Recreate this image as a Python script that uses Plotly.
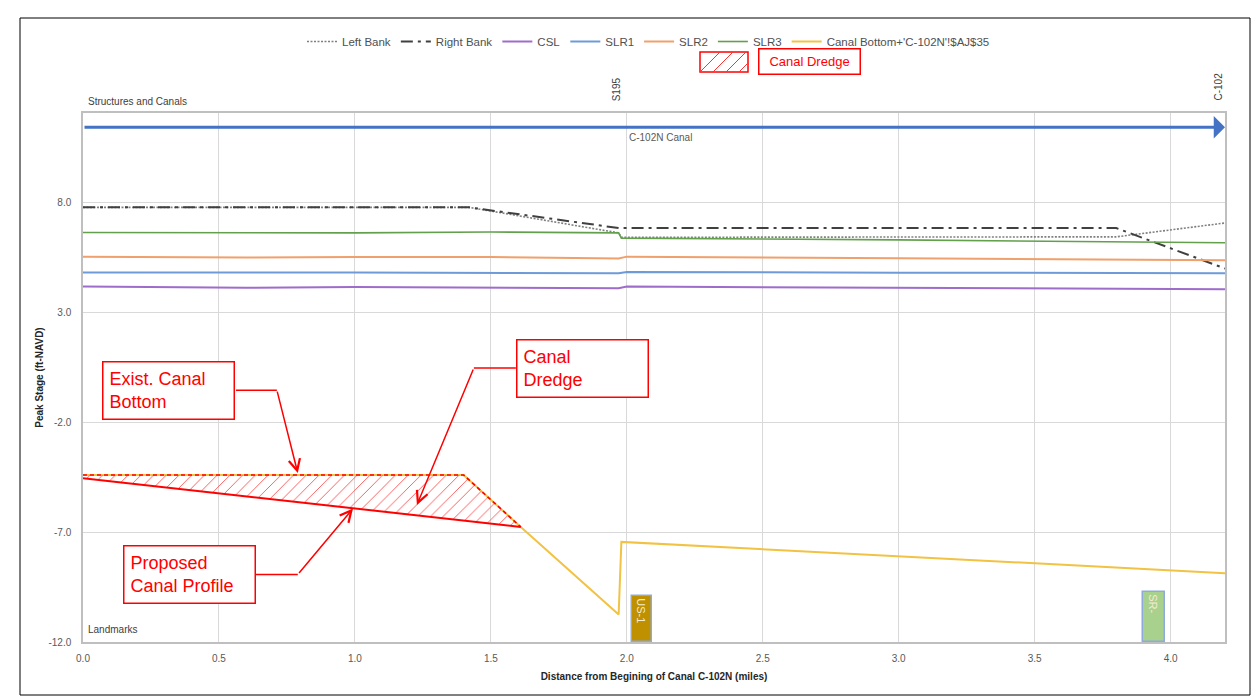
import plotly.graph_objects as go

# Distance along canal C-102N (miles) and peak stages (ft-NAVD)
left_bank_x = [0.0, 1.42, 1.97, 1.98, 3.80, 4.20]
left_bank_y = [7.76, 7.76, 6.60, 6.40, 6.42, 7.05]

right_bank_x = [0.0, 1.42, 1.97, 3.80, 4.20]
right_bank_y = [7.76, 7.76, 6.82, 6.82, 4.98]

csl_x = [0.0, 0.6, 1.0, 1.97, 2.0, 3.0, 4.2]
csl_y = [4.16, 4.10, 4.14, 4.08, 4.16, 4.10, 4.04]

slr1_x = [0.0, 1.0, 1.97, 2.0, 3.0, 4.2]
slr1_y = [4.80, 4.80, 4.76, 4.82, 4.79, 4.77]

slr2_x = [0.0, 0.6, 1.0, 1.5, 1.97, 2.0, 3.0, 4.2]
slr2_y = [5.52, 5.48, 5.50, 5.50, 5.44, 5.52, 5.45, 5.36]

slr3_x = [0.0, 1.0, 1.5, 1.97, 1.98, 3.0, 4.2]
slr3_y = [6.62, 6.60, 6.64, 6.60, 6.36, 6.28, 6.15]

canal_bottom_x = [0.0, 1.40, 1.61, 1.97, 1.98, 4.20]
canal_bottom_y = [-4.41, -4.41, -6.77, -10.75, -7.45, -8.87]

# Dredge section: existing bottom against the proposed profile
dredge_exist_x = [0.0, 1.40, 1.61]
dredge_exist_y = [-4.41, -4.41, -6.77]
proposed_x = [0.0, 1.61]
proposed_y = [-4.55, -6.77]

# Canal reach shown in the structures band
canal_extent = [0.0, 4.2]
canal_stage = 11.4

# Landmarks along the bottom band
landmark_names = ["US-1", "SR-"]
landmark_x = [2.055, 3.94]
landmark_width = [0.073, 0.08]
landmark_top = [-9.9, -9.73]
landmark_colors = ["#BF9000", "#A9D18E"]
axis_floor = -12.0

# Structures labelled above the plot
structure_names = ["S195", "C-102"]
structure_x = [2.0, 4.2]

# Axis ticks
x_ticks = [0.0, 0.5, 1.0, 1.5, 2.0, 2.5, 3.0, 3.5, 4.0]
x_tick_labels = ["0.0", "0.5", "1.0", "1.5", "2.0", "2.5", "3.0", "3.5", "4.0"]
y_ticks = [-12.0, -7.0, -2.0, 3.0, 8.0]
y_tick_labels = ["-12.0", "-7.0", "-2.0", "3.0", "8.0"]

FONT = "Liberation Sans, Arial, sans-serif"
GRAY = "#595959"
RED = "#FF0000"

fig = go.Figure()

series = [
    ("Left Bank", left_bank_x, left_bank_y, dict(color="#808080", width=1.6, dash="2px,1.5px")),
    ("Right Bank", right_bank_x, right_bank_y, dict(color="#404040", width=2, dash="12px,5px,3px,5px")),
    ("CSL", csl_x, csl_y, dict(color="#9E6CCB", width=2)),
    ("SLR1", slr1_x, slr1_y, dict(color="#6E9BD8", width=2)),
    ("SLR2", slr2_x, slr2_y, dict(color="#F0A06C", width=2)),
    ("SLR3", slr3_x, slr3_y, dict(color="#62A04C", width=1.6)),
    ("Canal Bottom+'C-102N'!$AJ$35", canal_bottom_x, canal_bottom_y, dict(color="#F2C242", width=2)),
]
for name, xs, ys, line in series:
    fig.add_trace(go.Scatter(x=xs, y=ys, mode="lines", name=name, line=line))

# Hatched dredge area between existing bottom and proposed profile
fig.add_trace(go.Scatter(
    x=dredge_exist_x + proposed_x[::-1],
    y=dredge_exist_y + proposed_y[::-1],
    mode="lines", fill="toself", line=dict(width=0),
    fillcolor="rgba(255,255,255,0)",
    fillpattern=dict(shape="/", fgcolor="#FF5050", bgcolor="rgba(255,255,255,0)",
                     size=9, solidity=0.1, fillmode="replace"),
    showlegend=False, hoverinfo="skip"))
fig.add_trace(go.Scatter(x=dredge_exist_x, y=dredge_exist_y, mode="lines",
                         line=dict(color=RED, width=1.6, dash="4px,3px"),
                         showlegend=False, hoverinfo="skip"))
fig.add_trace(go.Scatter(x=proposed_x, y=proposed_y, mode="lines",
                         line=dict(color=RED, width=2), showlegend=False))

# Landmark blocks
fig.add_trace(go.Bar(
    x=landmark_x, y=[t - axis_floor for t in landmark_top], base=axis_floor,
    width=landmark_width, marker=dict(color=landmark_colors, line=dict(color="#8EA9DB", width=1.5)),
    text=landmark_names, textposition="inside", textangle=90, insidetextanchor="end",
    textfont=dict(color="#F4EBD0", size=11, family=FONT), showlegend=False))

# Canal arrow
fig.add_annotation(x=canal_extent[1], y=canal_stage, ax=canal_extent[0], ay=canal_stage,
                   xref="x", yref="y", axref="x", ayref="y", text="", showarrow=True,
                   arrowhead=1, arrowsize=1.25, arrowwidth=3, arrowcolor="#4472C4", standoff=0)
fig.add_annotation(x=2.0, y=canal_stage, xref="x", yref="y", text="C-102N Canal",
                   showarrow=False, xanchor="left", yanchor="top", yshift=-3,
                   font=dict(size=10, color=GRAY, family=FONT))

for name, sx in zip(structure_names, structure_x):
    fig.add_annotation(x=sx, y=1, xref="x", yref="paper", text=name, textangle=-90,
                       showarrow=False, xanchor="right", yanchor="bottom", yshift=10,
                       xshift=-3 if sx < 4 else 0, font=dict(size=10, color="#404040", family=FONT))

fig.add_annotation(x=0, y=1, xref="paper", yref="paper", text="Structures and Canals",
                   showarrow=False, xanchor="left", yanchor="bottom", xshift=3, yshift=4,
                   font=dict(size=10, color="#404040", family=FONT))
fig.add_annotation(x=0, y=0, xref="paper", yref="paper", text="Landmarks",
                   showarrow=False, xanchor="left", yanchor="bottom", xshift=3, yshift=5,
                   font=dict(size=10, color="#404040", family=FONT))

# Callouts: box centre, connector start, bend, arrow tip
callouts = [
    ("Exist. Canal<br>Bottom", (0.316, -0.57), (0.5625, -0.55), (0.713, -0.55), (0.790, -4.32)),
    ("Canal<br>Dredge", (1.838, 0.455), (1.592, 0.455), (1.4375, 0.455), (1.228, -5.77)),
    ("Proposed<br>Canal Profile", (0.3915, -8.91), (0.636, -8.93), (0.790, -8.93), (0.993, -5.93)),
]
for text, (bx, by), (sx, sy), (kx, ky), (tx, ty) in callouts:
    fig.add_annotation(x=bx, y=by, xref="x", yref="y", text=text, showarrow=False,
                       align="left", width=118, height=44, valign="middle",
                       bordercolor=RED, borderwidth=1.5, borderpad=6, bgcolor="white",
                       font=dict(size=18, color=RED, family=FONT))
    fig.add_shape(type="line", x0=sx, y0=sy, x1=kx, y1=ky, xref="x", yref="y",
                  line=dict(color=RED, width=1.5))
    fig.add_annotation(x=tx, y=ty, ax=kx, ay=ky, xref="x", yref="y", axref="x", ayref="y",
                       text="", showarrow=True, arrowhead=5, arrowsize=1.5, arrowwidth=1.5,
                       arrowcolor=RED, standoff=0)


# Second legend row: hatched swatch and boxed label for the dredge area
def px_x(p):
    return (p - 83) / 1142


def px_y(p):
    return (642 - p) / 529


fig.add_shape(type="rect", xref="paper", yref="paper", x0=px_x(700), x1=px_x(748),
              y0=px_y(72), y1=px_y(52), line=dict(color=RED, width=1.5))
for start in (700, 713, 726, 739):
    x0, x1 = start, start + 20
    y0, y1 = 72, 52
    if x1 > 748:
        y1 = 52 + (x1 - 748)
        x1 = 748
    fig.add_shape(type="line", xref="paper", yref="paper", x0=px_x(x0), x1=px_x(x1),
                  y0=px_y(y0), y1=px_y(y1), line=dict(color="#FF3030", width=1))
fig.add_annotation(x=px_x(809.5), y=px_y(62), xref="paper", yref="paper", text="Canal Dredge",
                   showarrow=False, xanchor="center", yanchor="middle",
                   width=92, height=16, bordercolor=RED, borderwidth=1.5,
                   borderpad=4, font=dict(size=13, color=RED, family=FONT))

# Outer chart frame
fig.add_shape(type="rect", xref="paper", yref="paper", x0=px_x(20), x1=px_x(1250),
              y0=px_y(695), y1=px_y(18), line=dict(color="#000000", width=1))

axis_common = dict(showgrid=True, gridcolor="#D9D9D9", gridwidth=1, zeroline=False,
                   showline=True, linecolor="#BFBFBF", linewidth=1.5, mirror=True,
                   tickfont=dict(size=10, color=GRAY, family=FONT), ticks="")

fig.update_xaxes(range=[0, 4.2], tickmode="array", tickvals=x_ticks, ticktext=x_tick_labels,
                 ticklabelstandoff=6,
                 title=dict(text="Distance from Begining of Canal C-102N (miles)", standoff=10,
                            font=dict(size=10, color="#262626", family=FONT, weight="bold")),
                 **axis_common)
fig.update_yaxes(range=[-12, 12.05], tickmode="array", tickvals=y_ticks, ticktext=y_tick_labels,
                 ticklabelstandoff=8,
                 title=dict(text="Peak Stage (ft-NAVD)", standoff=3,
                            font=dict(size=10, color="#262626", family=FONT, weight="bold")),
                 **axis_common)

fig.update_layout(
    width=1257, height=696,
    margin=dict(l=83, r=32, t=113, b=54),
    paper_bgcolor="white", plot_bgcolor="white",
    font=dict(family=FONT, size=10, color=GRAY),
    barmode="overlay", bargap=0,
    legend=dict(orientation="h", x=px_x(302), xanchor="left", y=px_y(27), yanchor="top",
                font=dict(size=11.5, color="#505050", family=FONT), bgcolor="rgba(0,0,0,0)",
                tracegroupgap=0),
)

fig.write_html("out.html")
